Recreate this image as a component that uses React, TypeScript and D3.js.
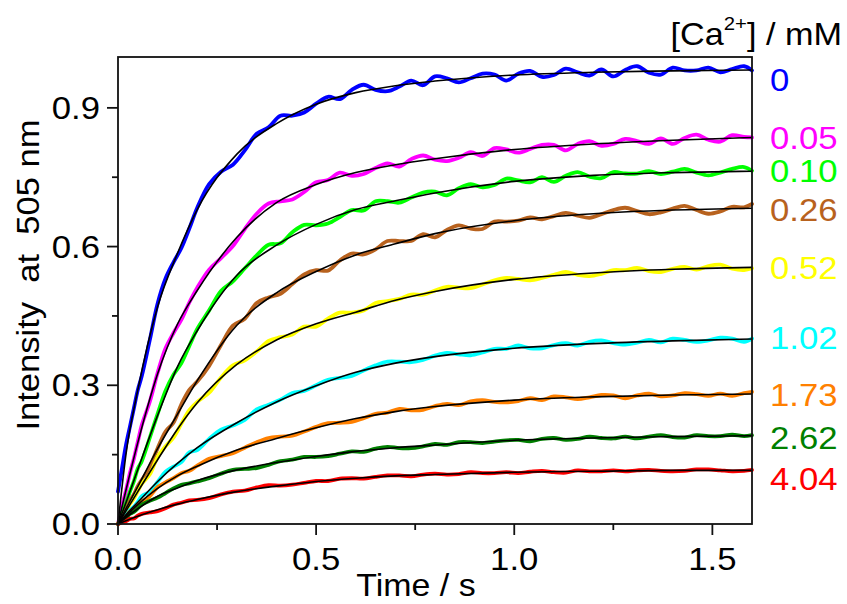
import React, { useEffect } from 'react';
import * as d3 from 'd3';

// sampling times of the measured traces (s)
const TIME = [0, 0.01, 0.02, 0.03, 0.04, 0.05, 0.06, 0.08, 0.10, 0.12,
  0.14, 0.16, 0.18, 0.20, 0.23, 0.26, 0.29, 0.32, 0.35, 0.38,
  0.41, 0.44, 0.47, 0.50, 0.53, 0.56, 0.59, 0.62, 0.65, 0.68,
  0.71, 0.74, 0.77, 0.80, 0.83, 0.86, 0.89, 0.92, 0.95, 0.98,
  1.01, 1.04, 1.07, 1.10, 1.13, 1.16, 1.19, 1.22, 1.25, 1.28,
  1.31, 1.34, 1.37, 1.40, 1.43, 1.46, 1.49, 1.52, 1.55, 1.58, 1.60];

// measured traces, one per [Ca2+]
const DATA_0 = [0.07, 0.12, 0.17, 0.21, 0.25, 0.29, 0.32, 0.397, 0.477, 0.531,
  0.566, 0.597, 0.639, 0.684, 0.735, 0.762, 0.777, 0.808, 0.844, 0.858,
  0.883, 0.883, 0.89, 0.909, 0.924, 0.919, 0.939, 0.95, 0.939, 0.936,
  0.946, 0.959, 0.949, 0.968, 0.964, 0.955, 0.964, 0.974, 0.972, 0.959,
  0.974, 0.98, 0.967, 0.971, 0.985, 0.977, 0.97, 0.983, 0.968, 0.982,
  0.99, 0.976, 0.972, 0.987, 0.981, 0.981, 0.987, 0.977, 0.984, 0.99, 0.981];
const DATA_005 = [0, 0.038, 0.072, 0.11, 0.141, 0.178, 0.214, 0.264, 0.327, 0.38,
  0.413, 0.442, 0.479, 0.511, 0.55, 0.575, 0.601, 0.638, 0.671, 0.693,
  0.698, 0.702, 0.718, 0.739, 0.744, 0.76, 0.753, 0.757, 0.77, 0.78,
  0.773, 0.789, 0.797, 0.788, 0.785, 0.792, 0.804, 0.796, 0.813, 0.81,
  0.803, 0.811, 0.82, 0.82, 0.808, 0.822, 0.828, 0.818, 0.822, 0.833,
  0.828, 0.822, 0.834, 0.822, 0.835, 0.842, 0.831, 0.827, 0.841, 0.837, 0.836];
const DATA_010 = [0, 0.024, 0.045, 0.07, 0.092, 0.12, 0.136, 0.186, 0.238, 0.288,
  0.323, 0.348, 0.385, 0.422, 0.462, 0.504, 0.525, 0.553, 0.581, 0.604,
  0.607, 0.631, 0.647, 0.646, 0.65, 0.664, 0.679, 0.678, 0.698, 0.698,
  0.695, 0.706, 0.717, 0.719, 0.711, 0.726, 0.735, 0.728, 0.733, 0.747,
  0.743, 0.739, 0.75, 0.74, 0.753, 0.761, 0.751, 0.748, 0.761, 0.758,
  0.758, 0.763, 0.757, 0.762, 0.768, 0.76, 0.754, 0.76, 0.768, 0.772, 0.764];
const DATA_026 = [0, 0.017, 0.032, 0.05, 0.064, 0.082, 0.095, 0.123, 0.164, 0.2,
  0.219, 0.259, 0.29, 0.308, 0.342, 0.387, 0.429, 0.444, 0.478, 0.49,
  0.498, 0.519, 0.54, 0.549, 0.548, 0.57, 0.585, 0.583, 0.594, 0.612,
  0.612, 0.612, 0.627, 0.62, 0.636, 0.646, 0.639, 0.638, 0.654, 0.654,
  0.656, 0.663, 0.659, 0.666, 0.673, 0.667, 0.662, 0.67, 0.679, 0.684,
  0.677, 0.67, 0.674, 0.682, 0.688, 0.679, 0.671, 0.676, 0.686, 0.685, 0.692];
const DATA_052 = [0, 0.015, 0.027, 0.043, 0.055, 0.071, 0.087, 0.107, 0.145, 0.168,
  0.187, 0.217, 0.246, 0.264, 0.284, 0.317, 0.343, 0.354, 0.373, 0.396,
  0.404, 0.41, 0.427, 0.427, 0.444, 0.457, 0.457, 0.462, 0.478, 0.482,
  0.487, 0.496, 0.496, 0.505, 0.513, 0.511, 0.51, 0.518, 0.527, 0.532,
  0.53, 0.527, 0.532, 0.539, 0.545, 0.539, 0.536, 0.541, 0.549, 0.549,
  0.554, 0.547, 0.545, 0.552, 0.556, 0.55, 0.558, 0.561, 0.552, 0.549, 0.553];
const DATA_102 = [0, 0.011, 0.019, 0.03, 0.037, 0.048, 0.06, 0.07, 0.091, 0.113,
  0.124, 0.134, 0.155, 0.16, 0.184, 0.204, 0.213, 0.225, 0.248, 0.258,
  0.269, 0.283, 0.288, 0.3, 0.312, 0.316, 0.32, 0.332, 0.343, 0.351,
  0.351, 0.35, 0.355, 0.364, 0.37, 0.367, 0.365, 0.371, 0.379, 0.379,
  0.386, 0.38, 0.38, 0.387, 0.391, 0.386, 0.394, 0.397, 0.391, 0.388,
  0.392, 0.398, 0.393, 0.401, 0.398, 0.394, 0.397, 0.403, 0.401, 0.394, 0.401];
const DATA_173 = [0, 0.01, 0.016, 0.027, 0.033, 0.043, 0.049, 0.06, 0.08, 0.09,
  0.099, 0.11, 0.115, 0.126, 0.141, 0.147, 0.153, 0.165, 0.177, 0.186,
  0.189, 0.191, 0.2, 0.21, 0.218, 0.219, 0.221, 0.229, 0.238, 0.241,
  0.249, 0.246, 0.247, 0.255, 0.26, 0.257, 0.265, 0.268, 0.264, 0.263,
  0.266, 0.272, 0.268, 0.276, 0.274, 0.27, 0.274, 0.279, 0.278, 0.272,
  0.278, 0.282, 0.276, 0.278, 0.283, 0.281, 0.277, 0.282, 0.277, 0.283, 0.286];
const DATA_262 = [0, 0.008, 0.013, 0.022, 0.026, 0.034, 0.042, 0.05, 0.057, 0.067,
  0.077, 0.085, 0.088, 0.092, 0.099, 0.109, 0.117, 0.119, 0.121, 0.128,
  0.136, 0.139, 0.145, 0.145, 0.147, 0.152, 0.157, 0.156, 0.163, 0.167,
  0.164, 0.164, 0.168, 0.173, 0.171, 0.177, 0.177, 0.175, 0.178, 0.181,
  0.182, 0.179, 0.184, 0.186, 0.182, 0.184, 0.189, 0.186, 0.185, 0.189,
  0.185, 0.189, 0.192, 0.188, 0.187, 0.192, 0.19, 0.19, 0.193, 0.19, 0.192];
const DATA_404 = [0, 0.004, 0.006, 0.011, 0.012, 0.018, 0.022, 0.025, 0.028, 0.034,
  0.042, 0.046, 0.051, 0.052, 0.056, 0.064, 0.07, 0.072, 0.079, 0.084,
  0.083, 0.085, 0.089, 0.093, 0.093, 0.098, 0.099, 0.098, 0.102, 0.105,
  0.105, 0.103, 0.107, 0.109, 0.107, 0.108, 0.112, 0.11, 0.11, 0.112,
  0.11, 0.113, 0.115, 0.112, 0.111, 0.116, 0.114, 0.114, 0.116, 0.114,
  0.116, 0.117, 0.115, 0.114, 0.115, 0.118, 0.118, 0.116, 0.114, 0.115, 0.117];

// fitted curves, sampled at FIT_TIME
const FIT_TIME = [0, 0.02, 0.05, 0.1, 0.15, 0.2, 0.3, 0.4, 0.5, 0.6, 0.7, 0.8, 1.0, 1.2, 1.4, 1.6];
const FIT_0 = [0, 0.15, 0.29, 0.47, 0.585, 0.68, 0.80, 0.866, 0.908, 0.933, 0.948, 0.958, 0.971, 0.977, 0.980, 0.982];
const FIT_005 = [0, 0.073, 0.176, 0.325, 0.432, 0.505, 0.62, 0.695, 0.734, 0.76, 0.777, 0.79, 0.81, 0.822, 0.83, 0.836];
const FIT_010 = [0, 0.046, 0.118, 0.235, 0.34, 0.418, 0.538, 0.603, 0.648, 0.68, 0.699, 0.716, 0.741, 0.754, 0.76, 0.763];
const FIT_026 = [0, 0.033, 0.081, 0.163, 0.237, 0.31, 0.43, 0.5, 0.546, 0.582, 0.606, 0.628, 0.656, 0.671, 0.679, 0.683];
const FIT_052 = [0, 0.028, 0.07, 0.139, 0.205, 0.262, 0.345, 0.398, 0.433, 0.458, 0.484, 0.503, 0.529, 0.543, 0.551, 0.555];
const FIT_102 = [0, 0.02, 0.047, 0.092, 0.131, 0.165, 0.219, 0.264, 0.299, 0.328, 0.348, 0.362, 0.38, 0.39, 0.396, 0.40];
const FIT_173 = [0, 0.017, 0.042, 0.077, 0.104, 0.125, 0.16, 0.185, 0.208, 0.228, 0.243, 0.254, 0.268, 0.275, 0.279, 0.281];
const FIT_262 = [0, 0.014, 0.033, 0.06, 0.078, 0.094, 0.117, 0.133, 0.146, 0.157, 0.165, 0.171, 0.181, 0.186, 0.189, 0.191];
const FIT_404 = [0, 0.007, 0.017, 0.031, 0.043, 0.053, 0.07, 0.082, 0.092, 0.099, 0.104, 0.107, 0.112, 0.114, 0.116, 0.116];

const CONCENTRATIONS = ['0', '0.05', '0.10', '0.26', '0.52', '1.02', '1.73', '2.62', '4.04'];
const COLORS = ['#0000ff', '#ff00ff', '#00ff00', '#b8621e', '#ffff00', '#00ffff', '#ff8000', '#008000', '#ff0000'];
const LABEL_AT = [0.961, 0.836, 0.763, 0.68, 0.555, 0.403, 0.28, 0.187, 0.097];
const DATA = [DATA_0, DATA_005, DATA_010, DATA_026, DATA_052, DATA_102, DATA_173, DATA_262, DATA_404];
const FITS = [FIT_0, FIT_005, FIT_010, FIT_026, FIT_052, FIT_102, FIT_173, FIT_262, FIT_404];

const X_TICKS = [0, 0.5, 1.0, 1.5];
const X_MINOR = [0.25, 0.75, 1.25];
const Y_TICKS = [0, 0.3, 0.6, 0.9];
const Y_MINOR = [0.15, 0.45, 0.75];

const W = 847;
const H = 604;
const m = { left: 118, right: 95, top: 57, bottom: 80 };
const FONT = '"Liberation Sans", Arial, sans-serif';

// text stretched a little horizontally, like the original rendering
const Txt = ({ x, y, sx = 1.12, size = 31, anchor = 'start', fill = '#000', dy = 0, rotate = 0, children }: any) => (
  <text
    transform={`translate(${x},${y}) rotate(${rotate}) scale(${sx},1)`}
    dy={dy}
    textAnchor={anchor}
    fontFamily={FONT}
    fontSize={size}
    fill={fill}
    style={{ whiteSpace: 'pre' }}
  >
    {children}
  </text>
);

export default function App() {
  useEffect(() => {
    document.body.style.margin = '0';
    document.body.style.overflow = 'hidden';
  }, []);

  const x = d3.scaleLinear().domain([0, 1.6]).range([m.left, W - m.right]);
  const y = d3.scaleLinear().domain([0, 1.01]).range([H - m.bottom, m.top]);

  const dataLine = d3.line<number>()
    .x((_, i) => x(TIME[i]))
    .y(d => y(d))
    .curve(d3.curveCatmullRom.alpha(0.5));
  const fitLine = d3.line<number>()
    .x((_, i) => x(FIT_TIME[i]))
    .y(d => y(d))
    .curve(d3.curveMonotoneX);

  const x0 = x(0);
  const y0 = y(0);

  return (
    <svg width={W} height={H} style={{ display: 'block', background: '#fff' }}>
      {/* measured traces */}
      {DATA.map((s, i) => (
        <path key={'d' + i} d={dataLine(s) || ''} fill="none" stroke={COLORS[i]}
          strokeWidth={3.8} strokeLinejoin="round" strokeLinecap="round" />
      ))}
      {/* fits */}
      {FITS.map((s, i) => (
        <path key={'f' + i} d={fitLine(s) || ''} fill="none" stroke="#000" strokeWidth={1.6} />
      ))}

      {/* frame */}
      <rect x={x0} y={y(1.01)} width={x(1.6) - x0} height={y0 - y(1.01)}
        fill="none" stroke="#111" strokeWidth={1.8} />

      {/* x axis */}
      {X_TICKS.map(t => (
        <g key={'xt' + t}>
          <line x1={x(t)} x2={x(t)} y1={y0} y2={y0 + 11} stroke="#111" strokeWidth={1.8} />
          <Txt x={x(t)} y={570} anchor="middle">{t.toFixed(1)}</Txt>
        </g>
      ))}
      {X_MINOR.map(t => (
        <line key={'xm' + t} x1={x(t)} x2={x(t)} y1={y0} y2={y0 + 6} stroke="#111" strokeWidth={1.8} />
      ))}

      {/* y axis */}
      {Y_TICKS.map(t => (
        <g key={'yt' + t}>
          <line x1={x0 - 11} x2={x0} y1={y(t)} y2={y(t)} stroke="#111" strokeWidth={1.8} />
          <Txt x={100} y={y(t)} dy="0.36em" anchor="end">{t.toFixed(1)}</Txt>
        </g>
      ))}
      {Y_MINOR.map(t => (
        <line key={'ym' + t} x1={x0 - 6} x2={x0} y1={y(t)} y2={y(t)} stroke="#111" strokeWidth={1.8} />
      ))}

      {/* axis titles */}
      <Txt x={416} y={596} anchor="middle" size={32} sx={1.06}>Time / s</Txt>
      <Txt x={39} y={275} anchor="middle" size={32} sx={1.08} rotate={-90}>{'Intensity  at  505 nm'}</Txt>

      {/* legend */}
      <text transform="translate(842,45) scale(1.07,1)" textAnchor="end" fontFamily={FONT} fontSize={32} fill="#000">
        [Ca<tspan fontSize={19} dy={-15}>2+</tspan><tspan dy={15}>] / mM</tspan>
      </text>
      {CONCENTRATIONS.map((c, i) => (
        <Txt key={'l' + c} x={770} y={y(LABEL_AT[i])} dy="0.36em" fill={COLORS[i]}>{c}</Txt>
      ))}
    </svg>
  );
}
